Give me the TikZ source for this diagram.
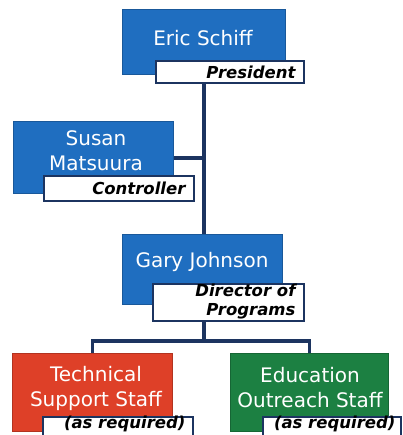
\documentclass[tikz,border=0pt]{standalone}
\usepackage{fontspec}
\setmainfont{DejaVu Sans}
\definecolor{boxblue}{RGB}{31,110,192}
\definecolor{boxred}{RGB}{222,64,40}
\definecolor{boxgreen}{RGB}{28,128,66}
\definecolor{navy}{RGB}{28,52,96}
\pgfdeclarelayer{bg}
\pgfsetlayers{bg,main}
\begin{document}
\begin{tikzpicture}[x=1pt,y=-1pt,
  pbox/.style={draw=boxblue!80!black,line width=0.6pt,anchor=north west,inner sep=0pt},
  lbox/.style={draw=navy,fill=white,line width=2pt,anchor=north west,inner sep=0pt},
  ptext/.style={text=white,font=\fontsize{20}{25}\selectfont,align=center},
  ltext/.style={text=black,font=\fontsize{16.5}{19}\selectfont\bfseries\itshape,align=right,anchor=east},
  conn/.style={draw=navy,line width=3.4pt}]
\useasboundingbox (0,0) rectangle (402,435);
% President
\node[pbox,fill=boxblue,minimum width=163pt,minimum height=65pt] (ericbox) at (122,9) {};
\node[lbox,minimum width=148pt,minimum height=22pt] (ericlab) at (155,60) {};
\node[ptext] (erictext) at (203,38) {Eric Schiff};
\node[ltext] (erictitle) at (299,72) {President};
% Susan
\node[pbox,fill=boxblue,minimum width=160pt,minimum height=72pt] (susanbox) at (13,121) {};
\node[lbox,minimum width=150pt,minimum height=25pt] (susanlab) at (43,175) {};
\node[ptext] (susantext) at (96,151) {Susan\\Matsuura};
\node[ltext] (susantitle) at (189,188) {Controller};
% Gary
\node[pbox,fill=boxblue,minimum width=160pt,minimum height=70pt] (garybox) at (122,234) {};
\node[lbox,minimum width=151pt,minimum height=37pt] (garylab) at (152,283) {};
\node[ptext] (garytext) at (202,262) {Gary Johnson};
\node[ltext] (garytitle) at (299,302) {Director of\\Programs};
% Technical
\node[pbox,fill=boxred,draw=boxred!80!black,minimum width=160pt,minimum height=78pt] (techbox) at (12,353) {};
\node[lbox,minimum width=150pt,minimum height=20pt] (techlab) at (42,416) {};
\node[ptext] (techtext) at (96,388) {Technical\\Support Staff};
\node[ltext] (techtitle) at (189,424) {(as required)};
% Education
\node[pbox,fill=boxgreen,draw=boxgreen!80!black,minimum width=158pt,minimum height=78pt] (edubox) at (230,353) {};
\node[lbox,minimum width=138pt,minimum height=20pt] (edulab) at (262,416) {};
\node[ptext] (edutext) at (310,388) {Education\\Outreach Staff};
\node[ltext] (edutitle) at (399,424) {(as required)};
% connectors
\coordinate (j1) at (204,158);
\coordinate (j2) at (204,341);
\begin{pgfonlayer}{bg}
\draw[conn] (ericbox.south -| j1) -- (garybox.north -| j1);
\draw[conn] (susanbox.east |- j1) -- (j1);
\draw[conn] (garybox.south -| j2) -- (j2);
\draw[conn] (techbox.north) -- (techbox.north |- j2) -- (edubox.north |- j2) -- (edubox.north);
\end{pgfonlayer}
\end{tikzpicture}
\end{document}
